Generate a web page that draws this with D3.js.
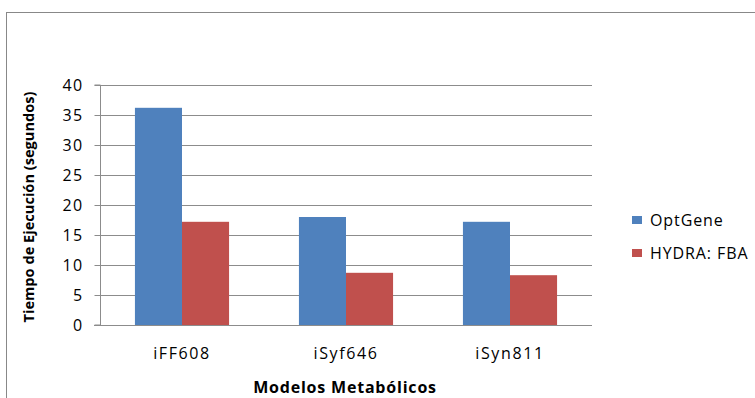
<!DOCTYPE html>
<html><head><meta charset="utf-8">
<script src="https://cdn.jsdelivr.net/npm/d3@7"></script>
<style>body{margin:0;background:#fff;} svg{display:block;}</style>
</head><body>
<svg id="c" width="755" height="398"></svg>
<script>
const categories = ["iFF608", "iSyf646", "iSyn811"];
const seriesNames = ["OptGene", "HYDRA: FBA"];
const optGene = [36.2, 18.0, 17.2];
const hydraFBA = [17.2, 8.7, 8.3];
const yTicks = [0, 5, 10, 15, 20, 25, 30, 35, 40];
const colors = ["#4F81BD", "#C0504D"];

const svg = d3.select("#c");
const font = "'Open Sans', 'DejaVu Sans', sans-serif";
const m = {left: 100, right: 592, top: 85, bottom: 325};

svg.append("rect").attr("x", 6.5).attr("y", 12.5).attr("width", 800).attr("height", 400)
  .attr("fill", "#fff").attr("stroke", "#888").attr("stroke-width", 1);

const x0 = d3.scaleBand().domain(categories).range([m.left, m.right]).paddingInner(0.426).paddingOuter(0.213);
const x1 = d3.scaleBand().domain(seriesNames).range([0, x0.bandwidth()]);
const y = d3.scaleLinear().domain([0, 40]).range([m.bottom, m.top]);

// gridlines
svg.append("g").selectAll("line").data(yTicks.filter(d => d > 0)).join("line")
  .attr("x1", m.left).attr("x2", m.right)
  .attr("y1", d => Math.round(y(d)) + 0.5).attr("y2", d => Math.round(y(d)) + 0.5)
  .attr("stroke", "#8c8c8c").attr("stroke-width", 1);

// bars
const data = categories.map((c, i) => ({c, vals: [optGene[i], hydraFBA[i]]}));
const g = svg.append("g").selectAll("g").data(data).join("g")
  .attr("transform", d => `translate(${x0(d.c)},0)`);
g.selectAll("rect").data(d => d.vals.map((v, j) => ({v, s: seriesNames[j], j}))).join("rect")
  .attr("x", d => x1(d.s)).attr("width", x1.bandwidth())
  .attr("y", d => y(d.v)).attr("height", d => y(0) - y(d.v))
  .attr("fill", d => colors[d.j]);

// y axis
const ya = svg.append("g").attr("transform", `translate(${m.left + 0.5},0)`)
  .call(d3.axisLeft(y).tickValues(yTicks).tickSize(6).tickPadding(11).tickFormat(d3.format("d")));
ya.select(".domain").attr("stroke", "#8c8c8c").attr("d", `M-6,${m.bottom}H0V${m.top}H-6`);
ya.selectAll(".tick line").attr("stroke", "#8c8c8c");
ya.selectAll(".tick").attr("transform", d => `translate(0,${Math.round(y(d)) + 0.5})`);
ya.selectAll("text").attr("font-family", font).attr("font-size", 16).attr("letter-spacing", 1.3).attr("fill", "#000");

// x axis line
svg.append("line").attr("x1", m.left - 6).attr("x2", m.right)
  .attr("y1", m.bottom + 0.5).attr("y2", m.bottom + 0.5).attr("stroke", "#8c8c8c");

// category labels
svg.append("g").selectAll("text").data(categories).join("text")
  .attr("x", d => x0(d) + x0.bandwidth() / 2).attr("y", 359)
  .attr("text-anchor", "middle").attr("font-family", font).attr("font-size", 16)
  .attr("letter-spacing", 1.6).text(d => d);

// axis titles
svg.append("text").attr("x", 345).attr("y", 393).attr("text-anchor", "middle")
  .attr("font-family", font).attr("font-size", 16).attr("font-weight", "bold").attr("letter-spacing", 0.8)
  .text("Modelos Metabólicos");
svg.append("text").attr("transform", "translate(34,207) rotate(-90)").attr("text-anchor", "middle")
  .attr("font-family", font).attr("font-size", 14.6).attr("font-weight", "bold").text("Tiempo de Ejecución (segundos)");

// legend
const lg = svg.append("g").selectAll("g").data(seriesNames).join("g")
  .attr("transform", (d, i) => `translate(632,${216 + i * 33})`);
lg.append("rect").attr("width", 10).attr("height", 8).attr("fill", (d, i) => colors[i]);
lg.append("text").attr("x", 18).attr("y", 10).attr("font-family", font).attr("font-size", 16)
  .attr("letter-spacing", 0.9).text(d => d);
</script>
</body></html>
